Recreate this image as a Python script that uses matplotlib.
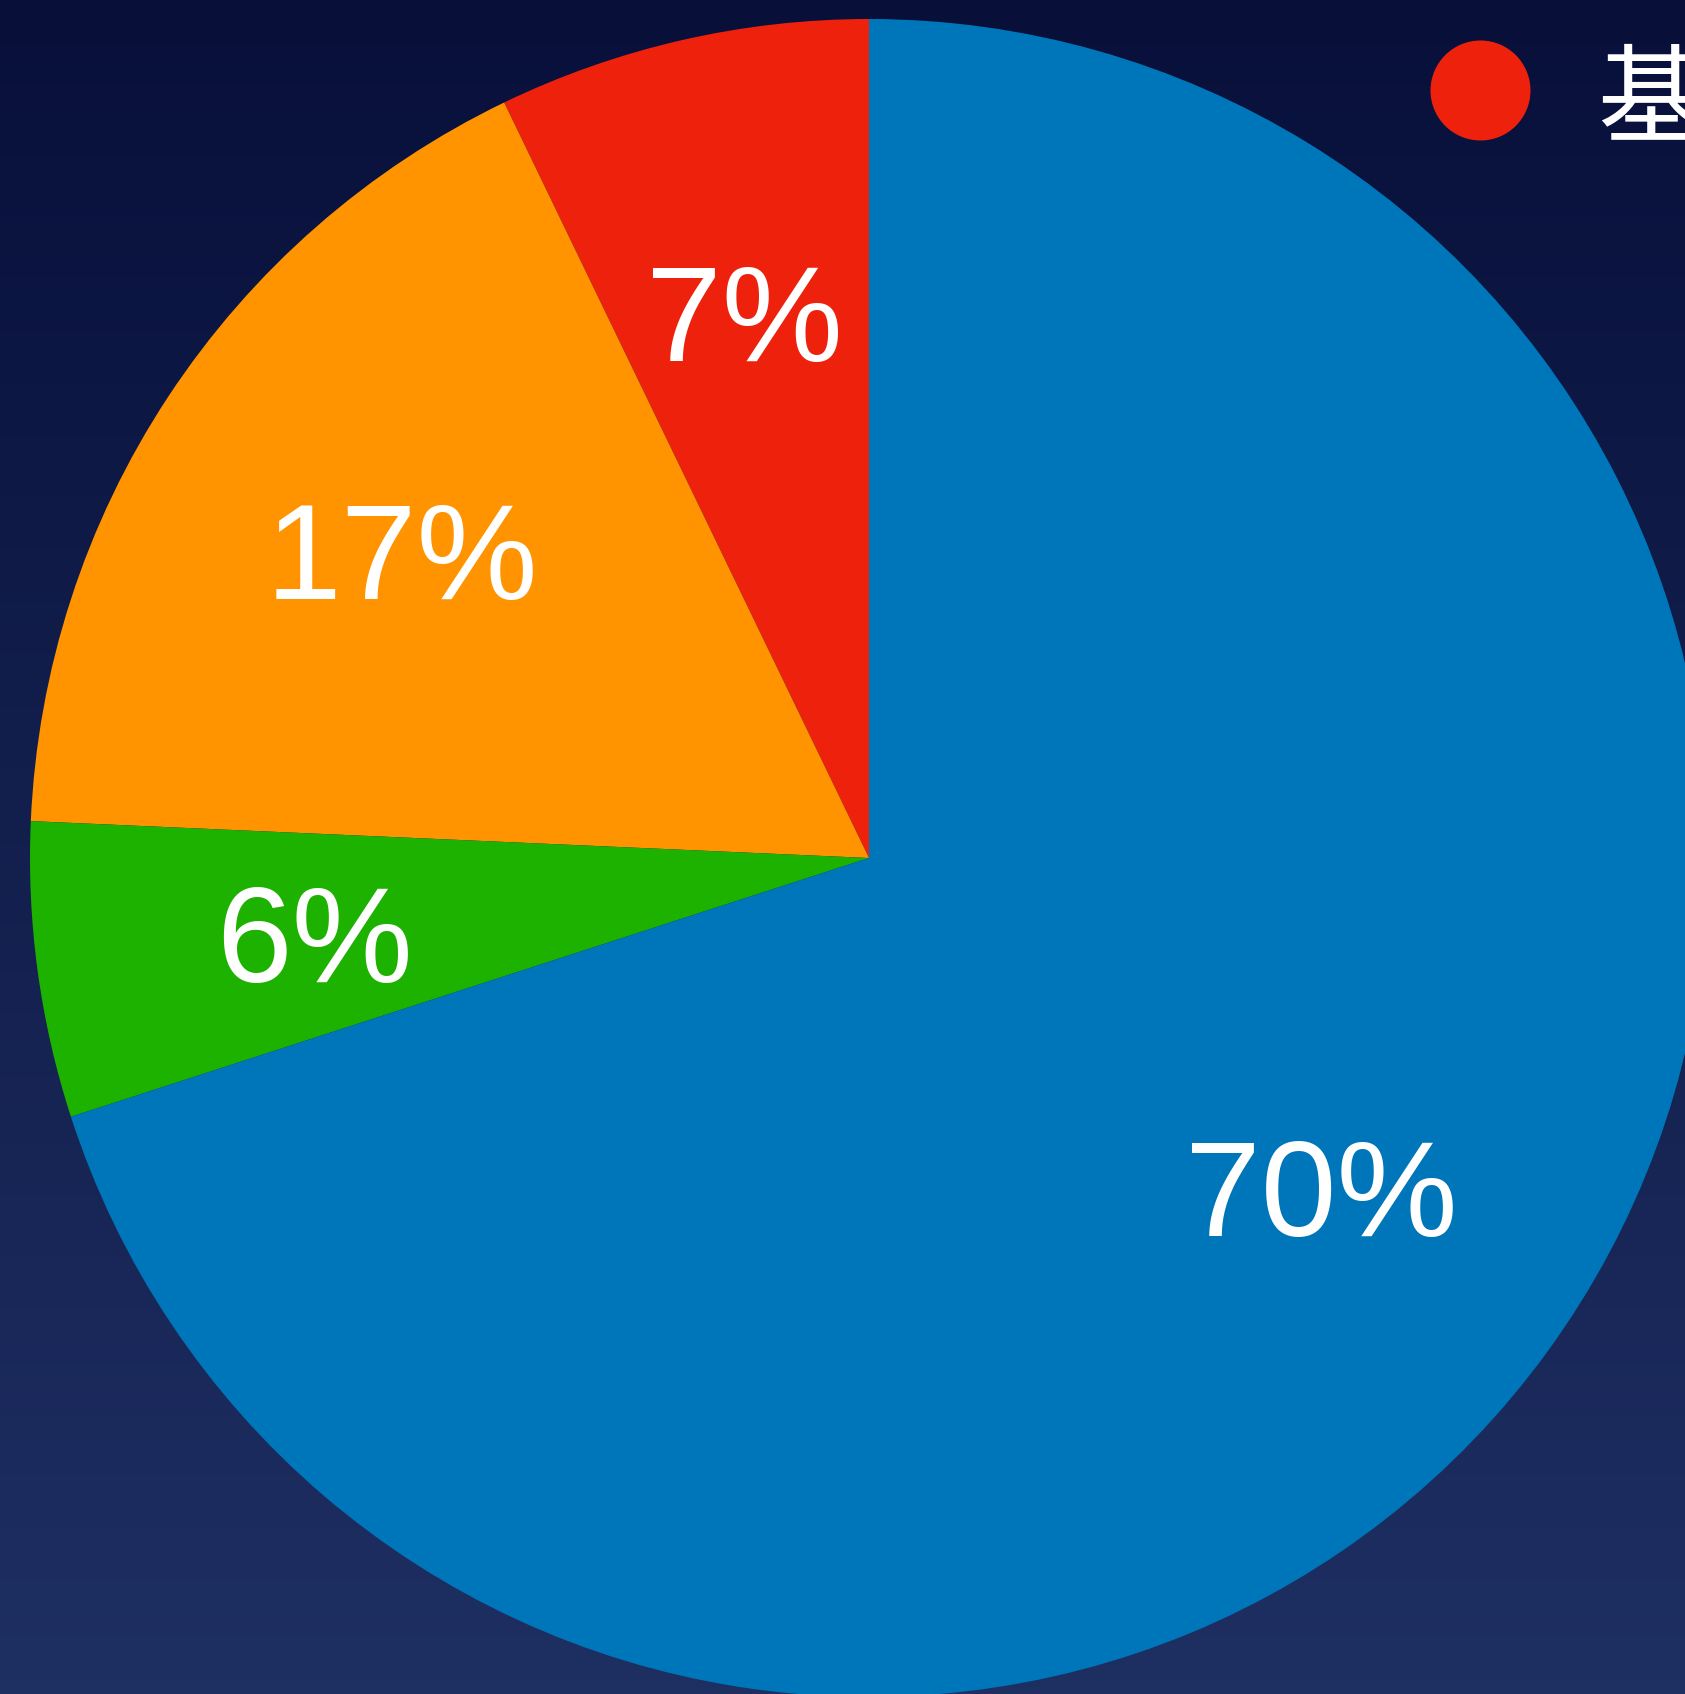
import numpy as np
import matplotlib
matplotlib.use("Agg")
import matplotlib.pyplot as plt
from matplotlib.lines import Line2D

# slice shares (percent), counter-clockwise from 12 o'clock
categories = ["基础", "进阶", "其他", "核心"]
shares = [7.16, 17.14, 5.69, 70.01]
colors = ["#EE220C", "#FF9300", "#1DB100", "#0076BA"]

W, H = 1685, 1694
fig = plt.figure(figsize=(W / 100, H / 100), dpi=100)

# background gradient
bg = fig.add_axes([0, 0, 1, 1])
grad = np.linspace(0, 1, 256).reshape(-1, 1)
cmap = matplotlib.colors.LinearSegmentedColormap.from_list("bg", ["#08103A", "#1E2F62"])
bg.imshow(grad, aspect="auto", cmap=cmap, extent=[0, 1, 0, 1], origin="upper")
bg.axis("off")

ax = fig.add_axes([0, 0, 1, 1])
ax.patch.set_alpha(0)

wedges, texts, autotexts = ax.pie(
    shares, colors=colors, startangle=90, counterclock=True,
    center=(869, H - 858), radius=839, pctdistance=0.667,
    autopct=lambda p: "%d%%" % round(p),
    wedgeprops=dict(linewidth=0), frame=True,
)
for t in autotexts:
    t.set_color("white")
    t.set_fontsize(98)
    t.set_family(["Liberation Sans", "DejaVu Sans"])
    t.set_va("center_baseline")
ax.set_xlim(0, W)
ax.set_ylim(0, H)
ax.set_aspect("equal")
ax.axis("off")

# legend: only the first entry fits inside the frame, the rest run off the right edge
lx, ly = 1480, 90
fig.add_artist(Line2D([lx / W], [1 - ly / H], marker="o", markersize=72,
                      markerfacecolor=colors[0], markeredgewidth=0, linestyle="none",
                      transform=fig.transFigure))
fig.text((lx + 117) / W, 1 - (ly + 13) / H, categories[0], color="white", fontsize=77,
         va="center", ha="left",
         family=["Noto Sans CJK SC", "DejaVu Sans"])

fig.savefig("out.png", dpi=100)
